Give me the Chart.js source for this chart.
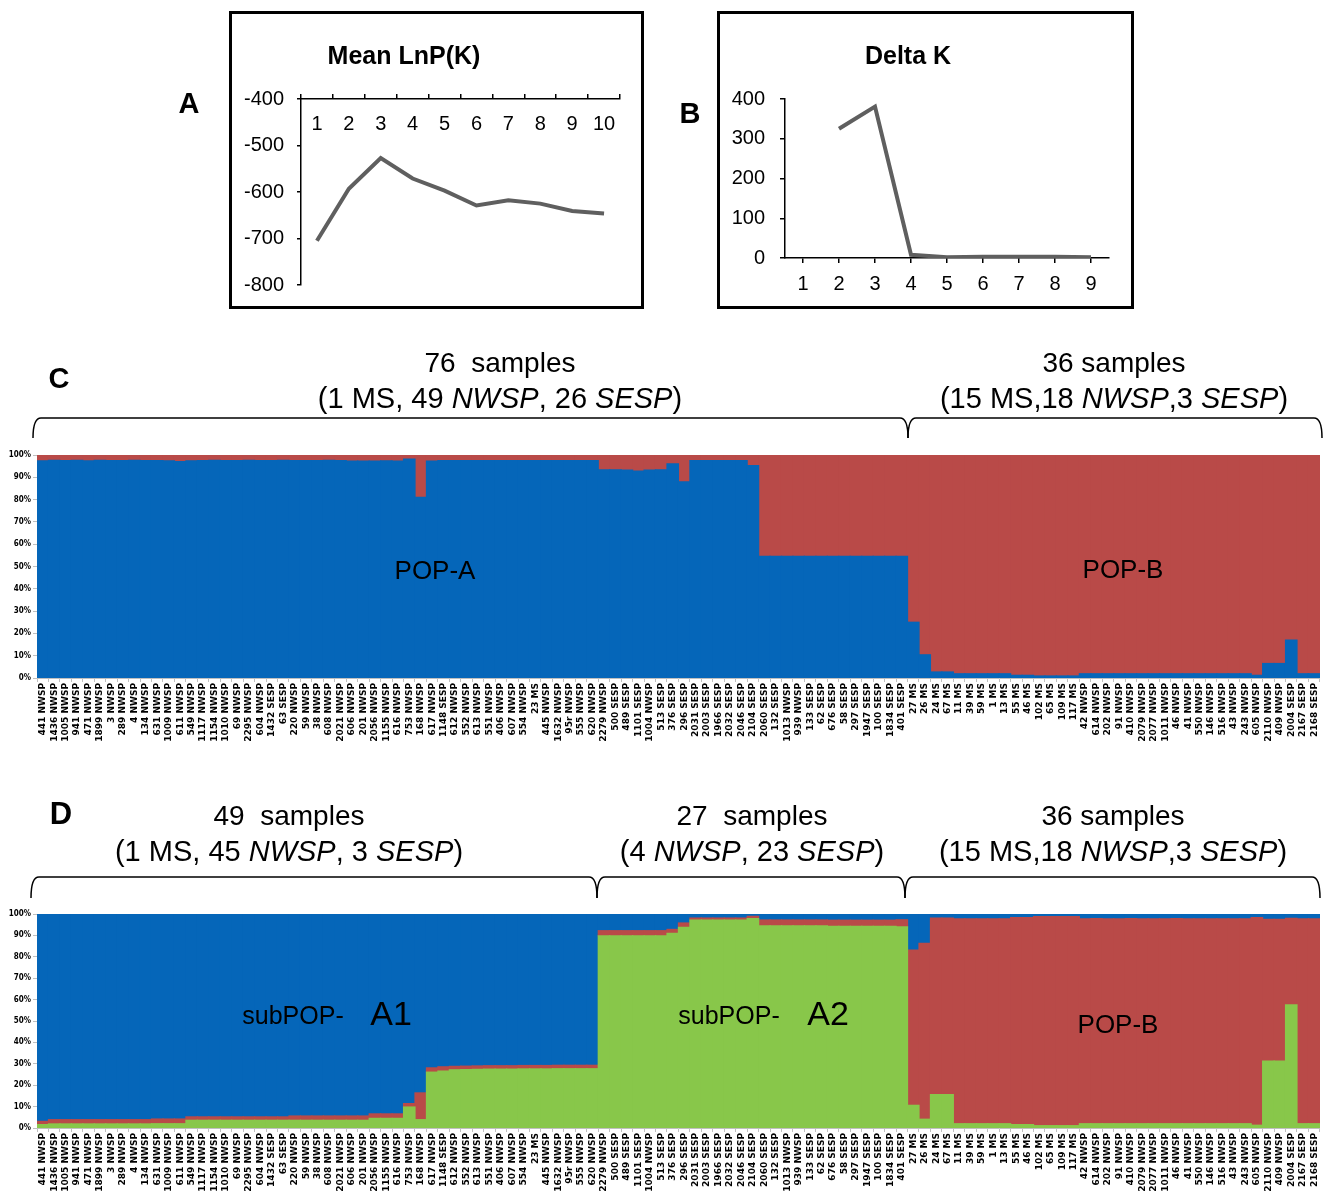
<!DOCTYPE html>
<html>
<head>
<meta charset="utf-8">
<script src="https://cdn.jsdelivr.net/npm/chart.js@4.4.1/dist/chart.umd.min.js"></script>
<style>
  body { margin: 0; background: #fff; }
  #page { position: relative; width: 1326px; height: 1194px; overflow: hidden; font-family: "Liberation Sans", Arial, sans-serif; color: #000; }
  canvas { position: absolute; }
  .box { position: absolute; border: 3px solid #000; box-sizing: border-box; }
  .t { position: absolute; transform: translate(-50%, -50%); white-space: pre; line-height: 1; }
  .b { font-weight: bold; }
  svg { position: absolute; left: 0; top: 0; }
</style>
</head>
<body>
<div id="page">
  <div class="box" style="left:229px;top:11px;width:415px;height:298px;"></div>
  <div class="box" style="left:717px;top:11px;width:417px;height:298px;"></div>

  <canvas id="lnpChart" width="413" height="236" style="left:230px;top:74px;"></canvas>
  <canvas id="deltaChart" width="415" height="233" style="left:718px;top:72px;"></canvas>
  <canvas id="k2Chart" width="1326" height="310" style="left:0;top:445px;"></canvas>
  <canvas id="k3Chart" width="1326" height="289" style="left:0;top:905px;"></canvas>

  <svg width="1326" height="1194">
    <g fill="none" stroke="#000" stroke-width="1.5">
      <path d="M33,438 Q33,418 41,418 L900,418 Q908,418 908,438"/>
      <path d="M908,438 Q908,418 916,418 L1314,418 Q1322,418 1322,438"/>
      <path d="M31,898 Q31,877 39,877 L589,877 Q597,877 597,898"/>
      <path d="M597,898 Q597,877 605,877 L897,877 Q905,877 905,898"/>
      <path d="M905,898 Q905,877 913,877 L1312,877 Q1320,877 1320,898"/>
    </g>
  </svg>

  <div class="t b" style="left:189px;top:103px;font-size:29px;">A</div>
  <div class="t b" style="left:690px;top:113px;font-size:29px;">B</div>
  <div class="t b" style="left:404px;top:55px;font-size:25px;">Mean LnP(K)</div>
  <div class="t b" style="left:908px;top:55px;font-size:25px;">Delta K</div>

  <div class="t b" style="left:59px;top:378px;font-size:29px;">C</div>
  <div class="t" style="left:500px;top:363px;font-size:28px;">76  samples</div>
  <div class="t" style="left:500px;top:398px;font-size:29px;">(1 MS, 49 <i>NWSP</i>, 26 <i>SESP</i>)</div>
  <div class="t" style="left:1114px;top:363px;font-size:28px;">36 samples</div>
  <div class="t" style="left:1114px;top:398px;font-size:29px;">(15 MS,18 <i>NWSP</i>,3 <i>SESP</i>)</div>
  <div class="t" style="left:435px;top:570px;font-size:26px;">POP-A</div>
  <div class="t" style="left:1123px;top:569px;font-size:26px;">POP-B</div>

  <div class="t b" style="left:61px;top:813px;font-size:31px;">D</div>
  <div class="t" style="left:289px;top:816px;font-size:28px;">49  samples</div>
  <div class="t" style="left:289px;top:851px;font-size:29px;">(1 MS, 45 <i>NWSP</i>, 3 <i>SESP</i>)</div>
  <div class="t" style="left:752px;top:816px;font-size:28px;">27  samples</div>
  <div class="t" style="left:752px;top:851px;font-size:29px;">(4 <i>NWSP</i>, 23 <i>SESP</i>)</div>
  <div class="t" style="left:1113px;top:816px;font-size:28px;">36 samples</div>
  <div class="t" style="left:1113px;top:851px;font-size:29px;">(15 MS,18 <i>NWSP</i>,3 <i>SESP</i>)</div>
  <div class="t" style="left:293px;top:1015px;font-size:25px;">subPOP-</div>
  <div class="t" style="left:391px;top:1013px;font-size:34px;">A1</div>
  <div class="t" style="left:729px;top:1015px;font-size:25px;">subPOP-</div>
  <div class="t" style="left:828px;top:1013px;font-size:34px;">A2</div>
  <div class="t" style="left:1118px;top:1024px;font-size:26px;">POP-B</div>
</div>

<script>
// K values and STRUCTURE summaries
var kLabels = ['1', '2', '3', '4', '5', '6', '7', '8', '9', '10'];
var meanLnP = [-705, -593, -527, -571, -597, -629, -618, -625, -641, -646];

var deltaLabels = ['1', '2', '3', '4', '5', '6', '7', '8', '9'];
var deltaK = [null, 325, 381, 8, 2, 3, 3, 3, 2];

// sample names, in plot order
var samples = [
    '441 NWSP', '1436 NWSP', '1005 NWSP', '941 NWSP', '471 NWSP', '1899 NWSP', '3 NWSP', '289 NWSP', '4 NWSP', '134 NWSP',
    '631 NWSP', '1009 NWSP', '611 NWSP', '549 NWSP', '1117 NWSP', '1154 NWSP', '1010 NWSP', '69 NWSP', '2295 NWSP', '604 NWSP',
    '1432 SESP', '63 SESP', '220 NWSP', '59 NWSP', '38 NWSP', '608 NWSP', '2021 NWSP', '606 NWSP', '201 NWSP', '2056 NWSP',
    '1155 NWSP', '616 NWSP', '753 NWSP', '168 NWSP', '617 NWSP', '1148 SESP', '612 NWSP', '552 NWSP', '613 NWSP', '551 NWSP',
    '406 NWSP', '607 NWSP', '554 NWSP', '23 MS', '445 NWSP', '1632 NWSP', '95r NWSP', '555 NWSP', '620 NWSP', '2279 NWSP',
    '500 SESP', '489 SESP', '1101 SESP', '1004 NWSP', '513 SESP', '376 SESP', '296 SESP', '2031 SESP', '2003 SESP', '1966 SESP',
    '2032 SESP', '2046 SESP', '2104 SESP', '2060 SESP', '132 SESP', '1013 NWSP', '939 NWSP', '133 SESP', '62 SESP', '676 SESP',
    '58 SESP', '297 SESP', '1947 SESP', '100 SESP', '1834 SESP', '401 SESP', '27 MS', '26 MS', '24 MS', '67 MS',
    '11 MS', '39 MS', '59 MS', '1 MS', '13 MS', '55 MS', '46 MS', '102 MS', '65 MS', '109 MS',
    '117 MS', '42 NWSP', '614 NWSP', '202 NWSP', '91 NWSP', '410 NWSP', '2079 NWSP', '2077 NWSP', '1011 NWSP', '46 NWSP',
    '41 NWSP', '550 NWSP', '146 NWSP', '516 NWSP', '43 NWSP', '243 NWSP', '605 NWSP', '2110 NWSP', '409 NWSP', '2004 SESP',
    '2167 SESP', '2168 SESP'
];

// K = 2 membership (%)
var k2PopA = [
    97.4, 97.6, 97.5, 97.6, 97.4, 97.6, 97.5, 97.5, 97.6, 97.5,
    97.5, 97.4, 97.0, 97.4, 97.5, 97.6, 97.5, 97.5, 97.6, 97.5,
    97.5, 97.6, 97.5, 97.5, 97.5, 97.6, 97.5, 97.3, 97.3, 97.3,
    97.4, 97.3, 98.2, 81.0, 97.3, 97.5, 97.5, 97.5, 97.5, 97.5,
    97.5, 97.5, 97.5, 97.5, 97.5, 97.5, 97.5, 97.5, 97.5, 93.3,
    93.3, 93.2, 92.8, 93.2, 93.3, 96.0, 88.0, 97.5, 97.5, 97.5,
    97.5, 97.5, 95.2, 54.5, 54.5, 54.5, 54.5, 54.5, 54.5, 54.5,
    54.5, 54.5, 54.5, 54.5, 54.5, 54.5, 25.0, 10.4, 2.7, 2.7,
    1.9, 1.9, 1.9, 1.9, 1.9, 1.2, 1.2, 0.9, 0.9, 0.9,
    0.9, 1.9, 1.9, 1.9, 1.9, 1.9, 1.9, 1.9, 1.9, 1.9,
    1.9, 1.9, 1.9, 1.9, 1.9, 1.9, 1.2, 6.5, 6.5, 17.0,
    1.9, 1.9
];
var k2PopB = [
    2.6, 2.4, 2.5, 2.4, 2.6, 2.4, 2.5, 2.5, 2.4, 2.5,
    2.5, 2.6, 3.0, 2.6, 2.5, 2.4, 2.5, 2.5, 2.4, 2.5,
    2.5, 2.4, 2.5, 2.5, 2.5, 2.4, 2.5, 2.7, 2.7, 2.7,
    2.6, 2.7, 1.8, 19.0, 2.7, 2.5, 2.5, 2.5, 2.5, 2.5,
    2.5, 2.5, 2.5, 2.5, 2.5, 2.5, 2.5, 2.5, 2.5, 6.7,
    6.7, 6.8, 7.2, 6.8, 6.7, 4.0, 12.0, 2.5, 2.5, 2.5,
    2.5, 2.5, 4.8, 45.5, 45.5, 45.5, 45.5, 45.5, 45.5, 45.5,
    45.5, 45.5, 45.5, 45.5, 45.5, 45.5, 75.0, 89.6, 97.3, 97.3,
    98.1, 98.1, 98.1, 98.1, 98.1, 98.8, 98.8, 99.1, 99.1, 99.1,
    99.1, 98.1, 98.1, 98.1, 98.1, 98.1, 98.1, 98.1, 98.1, 98.1,
    98.1, 98.1, 98.1, 98.1, 98.1, 98.1, 98.8, 93.5, 93.5, 83.0,
    98.1, 98.1
];

// K = 3 membership (%)
var k3SubA2 = [
    1.6, 1.9, 1.9, 1.9, 1.9, 1.9, 1.9, 1.9, 1.9, 1.9,
    2.0, 2.0, 2.0, 3.6, 3.6, 3.6, 3.6, 3.6, 3.6, 3.6,
    3.6, 3.6, 3.6, 3.6, 3.6, 3.6, 3.6, 3.6, 3.6, 4.5,
    4.5, 4.5, 9.8, 3.9, 26.1, 26.6, 27.2, 27.3, 27.4, 27.5,
    27.5, 27.5, 27.6, 27.6, 27.6, 27.7, 27.7, 27.7, 27.7, 89.8,
    89.8, 89.8, 89.8, 89.8, 89.8, 90.9, 93.8, 97.2, 97.2, 97.2,
    97.2, 97.2, 97.8, 94.5, 94.5, 94.5, 94.5, 94.5, 94.5, 94.2,
    94.2, 94.2, 94.2, 94.2, 94.2, 94.0, 10.6, 4.1, 15.6, 15.6,
    2.0, 2.0, 2.0, 2.0, 2.0, 1.6, 1.6, 1.1, 1.1, 1.1,
    1.1, 2.0, 2.0, 2.0, 2.0, 2.0, 2.0, 2.0, 2.0, 2.0,
    2.0, 2.0, 2.0, 2.0, 2.0, 2.0, 1.3, 31.3, 31.3, 57.5,
    2.0, 2.0
];
var k3PopB = [
    1.5, 2.0, 2.0, 2.0, 2.0, 2.0, 2.0, 2.0, 2.0, 2.0,
    2.2, 2.2, 2.2, 1.6, 1.6, 1.6, 1.6, 1.6, 1.6, 1.6,
    1.6, 1.6, 2.0, 2.0, 2.0, 2.0, 2.0, 2.0, 2.0, 2.1,
    2.1, 2.1, 1.6, 12.5, 2.0, 2.0, 1.6, 1.6, 1.6, 1.6,
    1.6, 1.6, 1.6, 1.6, 1.6, 1.6, 1.6, 1.6, 1.6, 2.4,
    2.4, 2.4, 2.4, 2.4, 2.4, 1.9, 2.0, 0.9, 0.9, 0.9,
    0.9, 0.9, 1.1, 2.7, 2.7, 2.7, 2.7, 2.7, 2.7, 2.9,
    2.9, 2.9, 2.9, 2.9, 2.9, 3.3, 72.5, 82.2, 82.5, 82.5,
    95.7, 95.7, 95.7, 95.7, 95.7, 96.7, 96.7, 97.7, 97.7, 97.7,
    97.7, 95.7, 95.9, 95.7, 95.7, 95.9, 95.7, 95.7, 95.7, 95.9,
    95.7, 95.7, 95.7, 95.7, 95.7, 95.7, 97.0, 66.2, 66.2, 40.5,
    95.7, 95.7
];
var k3SubA1 = [
    96.9, 96.1, 96.1, 96.1, 96.1, 96.1, 96.1, 96.1, 96.1, 96.1,
    95.8, 95.8, 95.8, 94.8, 94.8, 94.8, 94.8, 94.8, 94.8, 94.8,
    94.8, 94.8, 94.4, 94.4, 94.4, 94.4, 94.4, 94.4, 94.4, 93.4,
    93.4, 93.4, 88.6, 83.6, 71.9, 71.4, 71.2, 71.1, 71.0, 70.9,
    70.9, 70.9, 70.8, 70.8, 70.8, 70.7, 70.7, 70.7, 70.7, 7.8,
    7.8, 7.8, 7.8, 7.8, 7.8, 7.2, 4.2, 1.9, 1.9, 1.9,
    1.9, 1.9, 1.1, 2.8, 2.8, 2.8, 2.8, 2.8, 2.8, 2.9,
    2.9, 2.9, 2.9, 2.9, 2.9, 2.7, 16.9, 13.7, 1.9, 1.9,
    2.3, 2.3, 2.3, 2.3, 2.3, 1.7, 1.7, 1.2, 1.2, 1.2,
    1.2, 2.3, 2.1, 2.3, 2.3, 2.1, 2.3, 2.3, 2.3, 2.1,
    2.3, 2.3, 2.3, 2.3, 2.3, 2.3, 1.7, 2.5, 2.5, 2.0,
    2.3, 2.3
];

var BLUE = '#0566b9';
var RED = '#b94a48';
var GREEN = '#88c74a';
var LINE = '#5f5f5f';
var AXIS_GREY = '#c0c0c0';

Chart.defaults.font.family = '"Liberation Sans", Arial, sans-serif';
Chart.defaults.color = '#000';

// category labels drawn under a top axis, inside the plot
var innerXLabels = {
    id: 'innerXLabels',
    afterDraw: function (chart, args, opts) {
        if (!opts.gap) return;
        var xs = chart.scales.x;
        var ctx = chart.ctx;
        ctx.save();
        ctx.font = opts.font;
        ctx.fillStyle = '#000';
        ctx.textAlign = 'center';
        ctx.textBaseline = 'middle';
        chart.data.labels.forEach(function (lab, i) {
            ctx.fillText(lab, xs.getPixelForValue(i), chart.chartArea.top + opts.gap);
        });
        ctx.restore();
    }
};

new Chart(document.getElementById('lnpChart').getContext('2d'), {
    type: 'line',
    data: {
        labels: kLabels,
        datasets: [{
            data: meanLnP,
            borderColor: LINE,
            borderWidth: 4,
            pointRadius: 0,
            tension: 0
        }]
    },
    options: {
        responsive: false,
        animation: false,
        layout: { padding: { top: 7, right: 23, bottom: 1, left: 0 } },
        plugins: {
            legend: { display: false },
            tooltip: { enabled: false },
            innerXLabels: { gap: 25, font: '20px "Liberation Sans", Arial, sans-serif' }
        },
        scales: {
            x: {
                position: 'top',
                offset: true,
                grid: { drawOnChartArea: false, offset: true, tickLength: 5, color: '#000', lineWidth: 1.5 },
                border: { color: '#000', width: 1.5 },
                ticks: { display: false },
                afterFit: function (s) { s.height = 0; }
            },
            y: {
                min: -800,
                max: -400,
                ticks: { stepSize: 100, font: { size: 20 }, padding: 13 },
                grid: { drawOnChartArea: false, tickLength: 4, color: '#000', lineWidth: 1.5 },
                border: { color: '#000', width: 1.5 },
                afterFit: function (s) { s.width = 71; }
            }
        }
    },
    plugins: [innerXLabels]
});

new Chart(document.getElementById('deltaChart').getContext('2d'), {
    type: 'line',
    data: {
        labels: deltaLabels,
        datasets: [{
            data: deltaK,
            borderColor: LINE,
            borderWidth: 4,
            pointRadius: 0,
            tension: 0,
            spanGaps: false
        }]
    },
    options: {
        responsive: false,
        animation: false,
        layout: { padding: { top: 10, right: 24, bottom: 0, left: 0 } },
        plugins: { legend: { display: false }, tooltip: { enabled: false } },
        scales: {
            x: {
                offset: true,
                grid: { drawOnChartArea: false, offset: false, tickLength: 5, color: '#000', lineWidth: 1.5 },
                border: { color: '#000', width: 1.5 },
                ticks: { font: { size: 20 }, padding: 9, maxRotation: 0 },
                afterFit: function (s) { s.height = 47; }
            },
            y: {
                min: 0,
                max: 400,
                ticks: { stepSize: 100, font: { size: 20 }, padding: 15 },
                grid: { drawOnChartArea: false, tickLength: 5, color: '#000', lineWidth: 1.5 },
                border: { color: '#000', width: 1.5 },
                afterFit: function (s) { s.width = 67; }
            }
        }
    }
});

function structureOptions(xHeight, padTop) {
    return {
        responsive: false,
        animation: false,
        layout: { padding: { top: padTop, right: 6, bottom: 0, left: 0 } },
        plugins: { legend: { display: false }, tooltip: { enabled: false } },
        datasets: { bar: { barPercentage: 1, categoryPercentage: 1, borderWidth: 0, inflateAmount: 0.6 } },
        scales: {
            x: {
                stacked: true,
                grid: { drawOnChartArea: false, offset: true, tickLength: 4, color: AXIS_GREY },
                border: { color: AXIS_GREY },
                ticks: {
                    autoSkip: false,
                    minRotation: 90,
                    maxRotation: 90,
                    padding: 1,
                    color: '#000',
                    font: { family: '"DejaVu Sans"', size: 9, weight: 'bold' }
                },
                afterFit: function (s) { s.height = xHeight; }
            },
            y: {
                stacked: true,
                min: 0,
                max: 100,
                ticks: {
                    stepSize: 10,
                    padding: 2,
                    color: '#000',
                    font: { family: '"DejaVu Sans Condensed"', size: 8, weight: 'bold' },
                    callback: function (v) { return v + '%'; }
                },
                grid: { drawOnChartArea: false, tickLength: 4, color: AXIS_GREY },
                border: { color: AXIS_GREY },
                afterFit: function (s) { s.width = 37; }
            }
        }
    };
}

new Chart(document.getElementById('k2Chart').getContext('2d'), {
    type: 'bar',
    data: {
        labels: samples,
        datasets: [
            { label: 'POP-A', data: k2PopA, backgroundColor: BLUE },
            { label: 'POP-B', data: k2PopB, backgroundColor: RED }
        ]
    },
    options: structureOptions(77, 10)
});

new Chart(document.getElementById('k3Chart').getContext('2d'), {
    type: 'bar',
    data: {
        labels: samples,
        datasets: [
            { label: 'subPOP-A2', data: k3SubA2, backgroundColor: GREEN },
            { label: 'POP-B', data: k3PopB, backgroundColor: RED },
            { label: 'subPOP-A1', data: k3SubA1, backgroundColor: BLUE }
        ]
    },
    options: structureOptions(66, 9)
});
</script>
</body>
</html>
